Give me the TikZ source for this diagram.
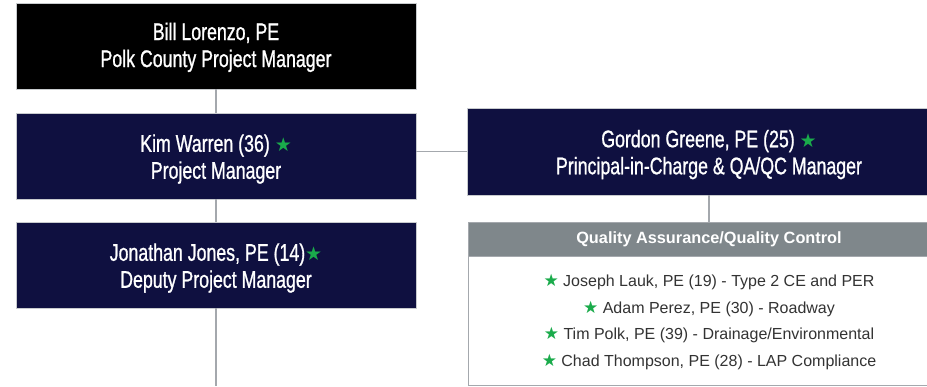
\documentclass[tikz,border=0pt]{standalone}
\usepackage{fontspec}
\setmainfont{Liberation Sans}
\newfontfamily\cond[FakeStretch=0.74,FakeBold=0.9]{Liberation Sans}
\newfontfamily\symf{DejaVu Sans}
\definecolor{navy}{HTML}{0F1040}
\definecolor{conn}{HTML}{A4A8AD}
\definecolor{hdr}{HTML}{7F878B}
\definecolor{stargreen}{HTML}{1AAB4B}
\newcommand{\gstar}{{\symf\color{stargreen}\fontsize{19}{19}\selectfont ★}}
\newcommand{\qstar}{{\symf\color{stargreen}\fontsize{17}{17}\selectfont ★}}
\newcommand{\tstrut}{\rule{0pt}{23.5pt}}
\tikzset{
  role/.style={draw=conn!60, line width=0.8pt, minimum width=400pt, minimum height=86pt,
    text=white, align=center, inner sep=0pt,
    font=\cond\fontsize{24}{27}\selectfont},
  link/.style={draw=conn, line width=1.5pt},
}
\begin{document}
\begin{tikzpicture}[x=1pt,y=-1pt]
\useasboundingbox (0,0) rectangle (927,386);
\clip (0,0) rectangle (927,386);
\fill[white] (0,0) rectangle (927,386);
\node[role, fill=black] (boss) at (216,46) {\rule{0pt}{20pt}Bill Lorenzo, PE\\Polk County Project Manager};
\node[role, fill=navy] (kim) at (216,156) {\tstrut Kim Warren (36) \gstar\\Project Manager};
\node[role, fill=navy] (jon) at (216,265) {\tstrut Jonathan Jones, PE (14)\gstar\\Deputy Project Manager};
\node[role, fill=navy, minimum width=484pt, minimum height=87pt] (gordon) at (709,151.5)
  {\tstrut Gordon Greene, PE (25) \gstar\\Principal-in-Charge \& QA/QC Manager};
\node[draw=conn, line width=0.8pt, fill=hdr, minimum width=482pt, minimum height=34pt, inner sep=0pt,
  text=white, font=\bfseries\fontsize{16.3}{18}\selectfont] (qahdr) at (709,239) {Quality Assurance/Quality Control};
\node[draw=conn, line width=0.8pt, fill=white, minimum width=482pt, minimum height=129pt, inner sep=0pt,
  anchor=north, text=black!80, align=center, font=\fontsize{16}{26.5}\selectfont] (qabody) at (qahdr.south)
  {\rule{0pt}{14pt}\qstar\ Joseph Lauk, PE (19) - Type 2 CE and PER\\
   \qstar\ Adam Perez, PE (30) - Roadway\\
   \qstar\ Tim Polk, PE (39) - Drainage/Environmental\\
   \qstar\ Chad Thompson, PE (28) - LAP Compliance};
\coordinate (bottom) at (216,386);
\draw[link] (boss) -- (kim);
\draw[link] (kim) -- (jon);
\draw[link] (jon) -- (bottom);
\draw[link] (gordon.west) -- (gordon.west -| kim.east);
\draw[link] (gordon) -- (qahdr);
\end{tikzpicture}
\end{document}
